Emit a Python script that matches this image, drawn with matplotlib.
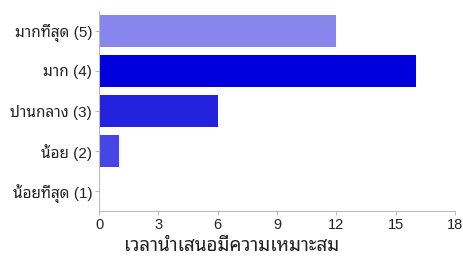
import matplotlib
matplotlib.use("Agg")
import matplotlib.pyplot as plt

plt.rcParams['font.family'] = ['Liberation Sans', 'Noto Sans Thai Looped', 'Noto Sans Thai', 'DejaVu Sans']

categories = ["มากที่สุด (5)", "มาก (4)", "ปานกลาง (3)", "น้อย (2)", "น้อยที่สุด (1)"]
values = [12, 16, 6, 1, 0]
colors = ["#8686ec", "#0000dc", "#2323df", "#4646e6", "#6666ee"]
xticks = [0, 3, 6, 9, 12, 15, 18]
xlabel = "เวลานำเสนอมีความเหมาะสม"

fig = plt.figure(figsize=(4.63, 2.59), dpi=100)
ax = fig.add_axes([0.214, 0.185, 0.769, 0.773])
ypos = list(range(len(categories)))
ax.barh(ypos, values, height=0.78, color=colors)
ax.set_ylim(len(categories) - 0.5, -0.5)
ax.set_xlim(0, 18)
ax.set_yticks(ypos)
ax.set_yticklabels(categories, fontsize=11, color="#222222")
ax.set_xticks(xticks)
ax.set_xticklabels([str(t) for t in xticks], fontsize=10.5, color="#222222")
fig.text(0.5, 0.05, xlabel, fontsize=13.5, color="#222222", ha="center", va="center")
for s in ["top", "right"]:
    ax.spines[s].set_visible(False)
for s in ["left", "bottom"]:
    ax.spines[s].set_color("#bbbbbb")
ax.tick_params(axis="both", length=3, color="#bbbbbb", pad=2)
fig.savefig("out.png", dpi=100)
